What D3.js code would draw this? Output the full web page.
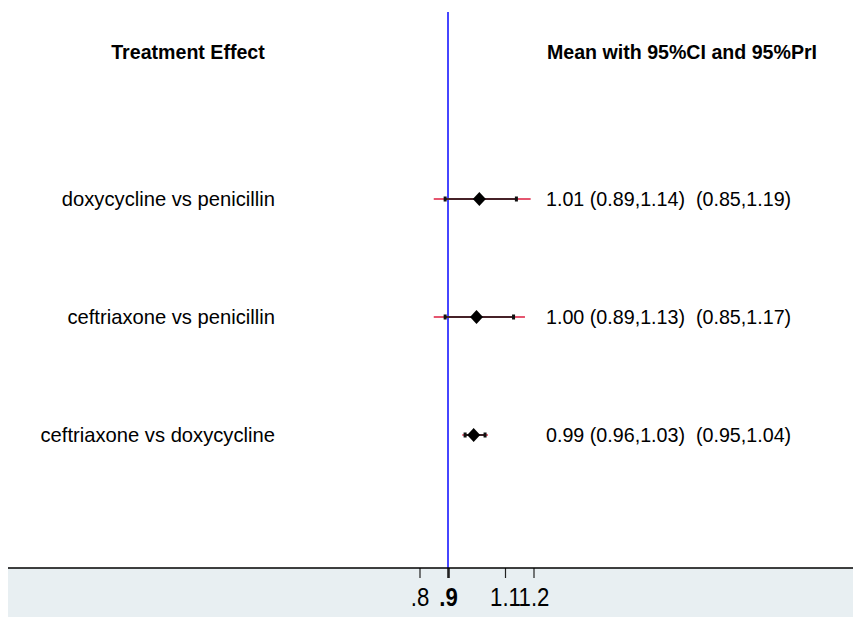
<!DOCTYPE html>
<html>
<head>
<meta charset="utf-8">
<script src="https://cdn.jsdelivr.net/npm/d3@7"></script>
<style>
  body { margin: 0; background: #fff; }
  svg { display: block; font-family: "Liberation Sans", Arial, sans-serif; }
</style>
</head>
<body>
<svg id="chart" width="853" height="617"></svg>
<script>
// interval plot: mean, 95% CI and 95% PrI per comparison
var comparisons = ["doxycycline vs penicillin", "ceftriaxone vs penicillin", "ceftriaxone vs doxycycline"];
var mean = [1.01, 1.00, 0.99];
var ciLow = [0.89, 0.89, 0.96];
var ciHigh = [1.14, 1.13, 1.03];
var priLow = [0.85, 0.85, 0.95];
var priHigh = [1.19, 1.17, 1.04];
var tickValues = [0.8, 0.9, 1.1, 1.2];
var tickLabels = [".8", ".9", "1.1", "1.2"];
var refValue = 0.9;

var svg = d3.select("#chart");
var W = 853, H = 617, axisY = 568;

var x = d3.scaleLinear().domain([0.8, 1.2]).range([419.5, 533.5]);
var y = d3.scaleLinear().domain([0, 4]).range([81, 553]);

var fmt = d3.format(".2f");
var rows = comparisons.map(function(c, i) {
    return {name: c, i: i + 1, m: mean[i], cl: ciLow[i], ch: ciHigh[i], pl: priLow[i], ph: priHigh[i]};
});

// bottom axis band
svg.append("rect")
    .attr("x", 8).attr("y", axisY)
    .attr("width", W - 8).attr("height", H - axisY)
    .attr("fill", "#e8eff2");

// headers
svg.append("text")
    .attr("x", 188).attr("y", 59)
    .attr("text-anchor", "middle")
    .style("font-size", "19.6px").style("font-weight", "bold")
    .text("Treatment Effect");
svg.append("text")
    .attr("x", 547).attr("y", 59)
    .style("font-size", "19.6px").style("font-weight", "bold")
    .text("Mean with 95%CI and 95%PrI");

// reference line
svg.append("line")
    .attr("x1", x(refValue)).attr("x2", x(refValue))
    .attr("y1", 12).attr("y2", axisY)
    .attr("stroke", "#4646ff").attr("stroke-width", 2);

var g = svg.selectAll(".row").data(rows).enter().append("g").attr("class", "row");

// prediction interval (red)
g.append("line")
    .attr("x1", function(d) { return x(d.pl); })
    .attr("x2", function(d) { return x(d.ph); })
    .attr("y1", function(d) { return y(d.i); })
    .attr("y2", function(d) { return y(d.i); })
    .attr("stroke", "#e5566f").attr("stroke-width", 1.8);

// confidence interval (black)
g.append("line")
    .attr("x1", function(d) { return x(d.cl); })
    .attr("x2", function(d) { return x(d.ch); })
    .attr("y1", function(d) { return y(d.i); })
    .attr("y2", function(d) { return y(d.i); })
    .attr("stroke", "#111").attr("stroke-width", 1.6);

// CI end marks
["cl", "ch"].forEach(function(k) {
    g.append("rect")
        .attr("x", function(d) { return x(d[k]) - 1.5; })
        .attr("y", function(d) { return y(d.i) - 2.5; })
        .attr("width", 3).attr("height", 5)
        .attr("fill", "#111");
});

// diamond at mean
g.append("path")
    .attr("d", "M0,-7L6.5,0L0,7L-6.5,0Z")
    .attr("transform", function(d) { return "translate(" + x(d.m) + "," + y(d.i) + ")"; })
    .attr("fill", "#000");

// row labels
g.append("text")
    .attr("x", 275)
    .attr("y", function(d) { return y(d.i) + 7; })
    .attr("text-anchor", "end")
    .style("font-size", "20.2px")
    .text(function(d) { return d.name; });

// estimate text
g.append("text")
    .attr("x", 546)
    .attr("y", function(d) { return y(d.i) + 7; })
    .style("font-size", "19.7px")
    .attr("xml:space", "preserve")
    .text(function(d) {
        return fmt(d.m) + " (" + fmt(d.cl) + "," + fmt(d.ch) + ")  (" + fmt(d.pl) + "," + fmt(d.ph) + ")";
    });

// x axis
var axis = d3.axisBottom(x)
    .tickValues(tickValues)
    .tickSize(10)
    .tickSizeOuter(0)
    .tickFormat(function(d, i) { return tickLabels[i]; });

var ax = svg.append("g")
    .attr("transform", "translate(0," + axisY + ")")
    .call(axis);

ax.select(".domain").remove();
svg.append("line")
    .attr("x1", 8).attr("x2", W)
    .attr("y1", axisY).attr("y2", axisY)
    .attr("stroke", "#000").attr("stroke-width", 1.6);

ax.selectAll(".tick line")
    .attr("stroke", "#222")
    .attr("stroke-width", function(d) { return d === refValue ? 2.6 : 1.2; });

ax.selectAll(".tick text")
    .attr("y", 0).attr("dy", null)
    .attr("transform", "translate(0,38) scale(0.87,1)")
    .attr("fill", "#000")
    .style("font-family", "'Liberation Sans', Arial, sans-serif")
    .style("font-size", "25.5px")
    .style("font-weight", function(d) { return d === refValue ? "bold" : "normal"; });
</script>
</body>
</html>
